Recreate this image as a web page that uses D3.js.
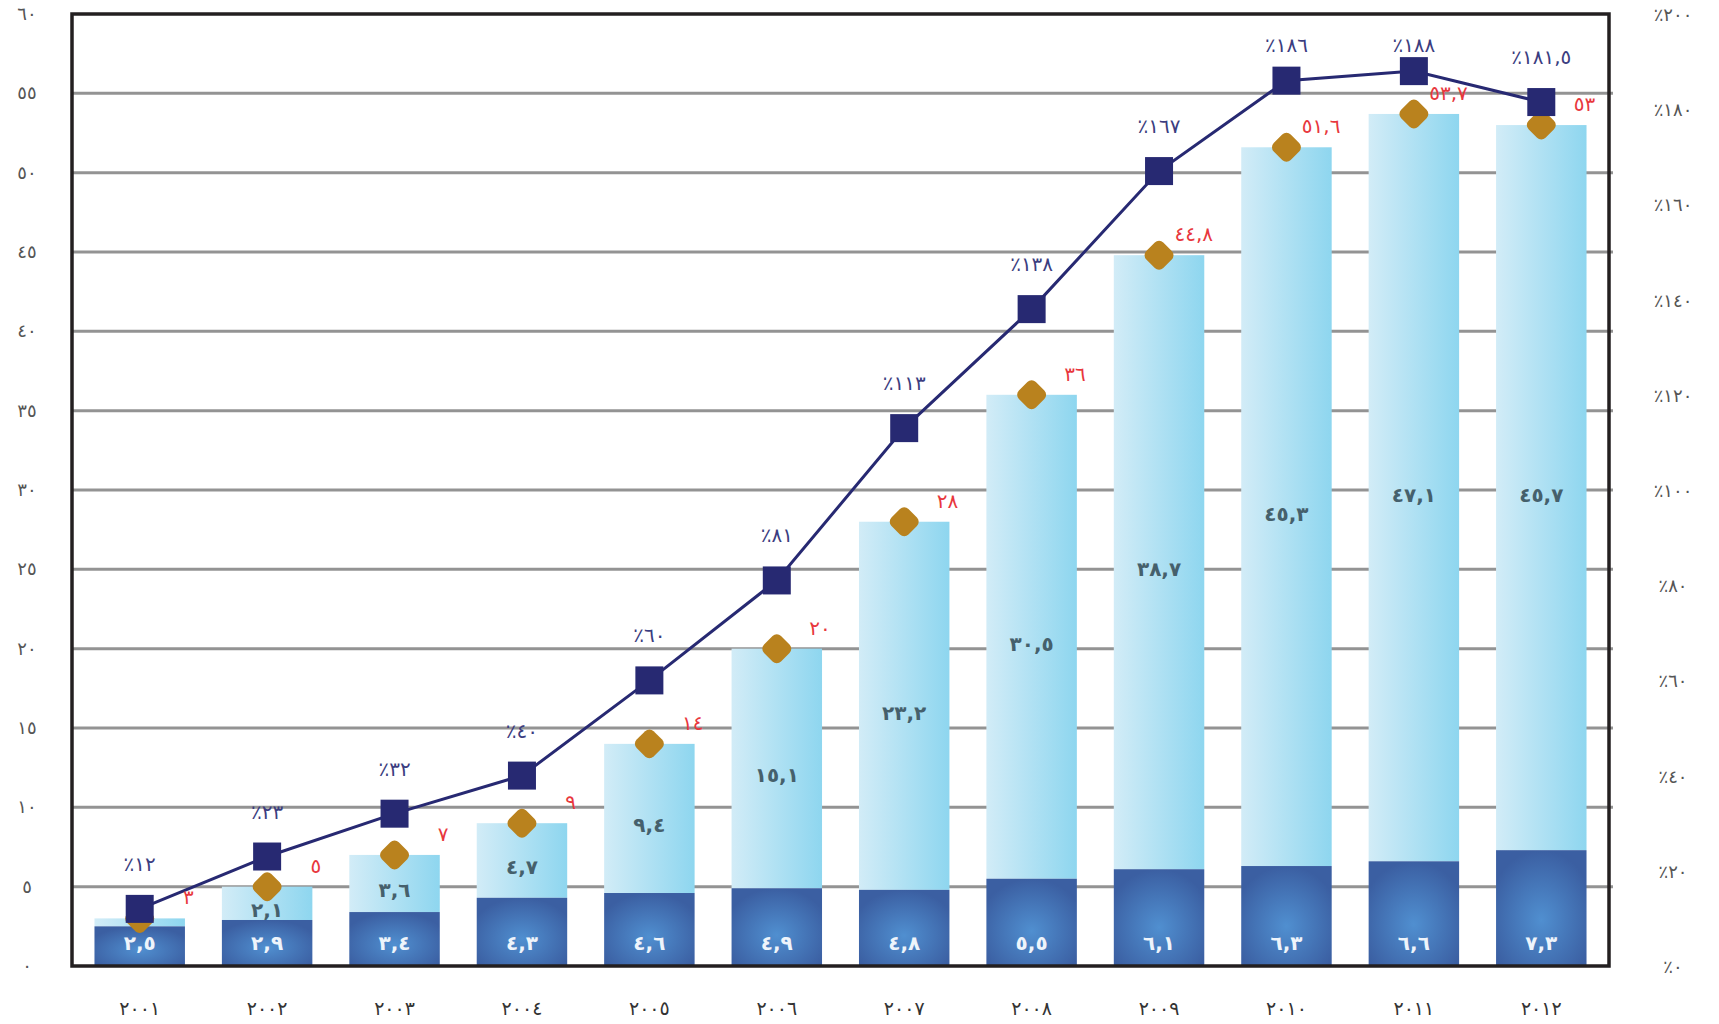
<!DOCTYPE html>
<html>
<head>
<meta charset="utf-8">
<script src="https://cdn.jsdelivr.net/npm/d3@7"></script>
<style>
	body { margin: 0; background: #fff; }
	svg text { font-family: "DejaVu Sans", sans-serif; }
</style>
</head>
<body>
<script>
"use strict";

// years and values
var years = ["٢٠٠١", "٢٠٠٢", "٢٠٠٣", "٢٠٠٤", "٢٠٠٥", "٢٠٠٦", "٢٠٠٧", "٢٠٠٨", "٢٠٠٩", "٢٠١٠", "٢٠١١", "٢٠١٢"];
var darkValues = [2.5, 2.9, 3.4, 4.3, 4.6, 4.9, 4.8, 5.5, 6.1, 6.3, 6.6, 7.3];
var lightValues = [0.5, 2.1, 3.6, 4.7, 9.4, 15.1, 23.2, 30.5, 38.7, 45.3, 47.1, 45.7];
var percentValues = [12, 23, 32, 40, 60, 81, 113, 138, 167, 186, 188, 181.5];
var leftTicks = [0, 5, 10, 15, 20, 25, 30, 35, 40, 45, 50, 55, 60];
var rightTicks = [0, 20, 40, 60, 80, 100, 120, 140, 160, 180, 200];

var width = 1719, height = 1024;
var plotLeft = 72, plotRight = 1609, plotTop = 14, plotBottom = 966;

// arabic-indic digits
function fa(v) {
	var digits = "٠١٢٣٤٥٦٧٨٩";
	return String(v).replace(/[0-9]/g, function (c) { return digits[+c]; }).replace(".", ",");
}

var svg = d3.select("body").append("svg")
	.attr("width", width)
	.attr("height", height);

var defs = svg.append("defs");

var lightGrad = defs.append("linearGradient")
	.attr("id", "lightGrad")
	.attr("x1", "0").attr("x2", "1").attr("y1", "0").attr("y2", "0");
lightGrad.append("stop").attr("offset", "0").attr("stop-color", "#d2ecf7");
lightGrad.append("stop").attr("offset", "1").attr("stop-color", "#8ed6ef");

var darkGrad = defs.append("radialGradient")
	.attr("id", "darkGrad")
	.attr("cx", "0.5").attr("cy", "0.6").attr("r", "0.6");
darkGrad.append("stop").attr("offset", "0").attr("stop-color", "#508fd0");
darkGrad.append("stop").attr("offset", "1").attr("stop-color", "#3b5fa2");

var x = d3.scaleBand()
	.domain(years)
	.range([76, 1605])
	.paddingInner(0.29)
	.paddingOuter(0.145);

var y = d3.scaleLinear().domain([0, 60]).range([plotBottom, plotTop]);
var yRight = d3.scaleLinear().domain([0, 200]).range([plotBottom, plotTop]);

// grid lines
svg.append("g")
	.selectAll("line")
	.data(leftTicks.filter(function (d) { return d > 0 && d < 60; }))
	.join("line")
	.attr("x1", plotLeft)
	.attr("x2", plotRight + 4)
	.attr("y1", function (d) { return y(d); })
	.attr("y2", function (d) { return y(d); })
	.attr("stroke", "#939393")
	.attr("stroke-width", 3);

// left axis labels
svg.append("g")
	.selectAll("text")
	.data(leftTicks)
	.join("text")
	.attr("x", 27)
	.attr("y", function (d) { return y(d) + 6; })
	.attr("text-anchor", "middle")
	.attr("font-size", 18)
	.attr("fill", "#555")
	.text(function (d) { return fa(d); });

// right axis labels
svg.append("g")
	.selectAll("text")
	.data(rightTicks)
	.join("text")
	.attr("x", 1673)
	.attr("y", function (d) { return yRight(d) + 7; })
	.attr("text-anchor", "middle")
	.attr("font-size", 18)
	.attr("fill", "#555")
	.text(function (d) { return "٪" + fa(d); });

// year labels
svg.append("g")
	.selectAll("text")
	.data(years)
	.join("text")
	.attr("x", function (d) { return x(d) + x.bandwidth() / 2; })
	.attr("y", 1015)
	.attr("text-anchor", "middle")
	.attr("font-size", 19)
	.attr("fill", "#333")
	.text(function (d) { return d; });

var rows = years.map(function (yr, i) {
	return { year: yr, dark: darkValues[i], light: lightValues[i], total: +(darkValues[i] + lightValues[i]).toFixed(1), pct: percentValues[i] };
});

// bars
var bars = svg.append("g");

bars.selectAll("rect.light")
	.data(rows)
	.join("rect")
	.attr("class", "light")
	.attr("x", function (d) { return x(d.year); })
	.attr("width", x.bandwidth())
	.attr("y", function (d) { return y(d.total); })
	.attr("height", function (d) { return y(d.dark) - y(d.total); })
	.attr("fill", "url(#lightGrad)");

bars.selectAll("rect.dark")
	.data(rows)
	.join("rect")
	.attr("class", "dark")
	.attr("x", function (d) { return x(d.year); })
	.attr("width", x.bandwidth())
	.attr("y", function (d) { return y(d.dark); })
	.attr("height", function (d) { return y(0) - y(d.dark); })
	.attr("fill", "url(#darkGrad)");

// value labels in the bars
bars.selectAll("text.darkLabel")
	.data(rows)
	.join("text")
	.attr("class", "darkLabel")
	.attr("x", function (d) { return x(d.year) + x.bandwidth() / 2; })
	.attr("y", 950)
	.attr("text-anchor", "middle")
	.attr("font-size", 20)
	.attr("font-weight", "bold")
	.attr("fill", "#eef4fb")
	.text(function (d) { return fa(d.dark); });

bars.selectAll("text.lightLabel")
	.data(rows.filter(function (d) { return d.light > 1; }))
	.join("text")
	.attr("class", "lightLabel")
	.attr("x", function (d) { return x(d.year) + x.bandwidth() / 2; })
	.attr("y", function (d) { return (y(d.dark) + y(d.total)) / 2 + 14; })
	.attr("text-anchor", "middle")
	.attr("font-size", 20)
	.attr("font-weight", "bold")
	.attr("fill", "#45606c")
	.text(function (d) { return fa(d.light); });

// frame
svg.append("rect")
	.attr("x", plotLeft)
	.attr("y", plotTop)
	.attr("width", plotRight - plotLeft)
	.attr("height", plotBottom - plotTop)
	.attr("fill", "none")
	.attr("stroke", "#231f20")
	.attr("stroke-width", 3.5);

// percent line
var cx = function (d) { return x(d.year) + x.bandwidth() / 2; };

svg.append("path")
	.datum(rows)
	.attr("d", d3.line().x(cx).y(function (d) { return yRight(d.pct); }))
	.attr("fill", "none")
	.attr("stroke", "#272972")
	.attr("stroke-width", 3);

// totals as gold diamonds
svg.append("g")
	.selectAll("rect")
	.data(rows)
	.join("rect")
	.attr("x", -12)
	.attr("y", -12)
	.attr("width", 24)
	.attr("height", 24)
	.attr("rx", 6)
	.attr("transform", function (d) { return "translate(" + cx(d) + "," + y(d.total) + ") rotate(45)"; })
	.attr("fill", "#b9821e");

svg.append("g")
	.selectAll("text")
	.data(rows)
	.join("text")
	.attr("x", function (d) { return cx(d) + 54; })
	.attr("y", function (d) { return y(d.total) - 14; })
	.attr("text-anchor", "end")
	.attr("font-size", 20)
	.attr("fill", "#e8373d")
	.text(function (d) { return fa(d.total); });

svg.append("g")
	.selectAll("rect")
	.data(rows)
	.join("rect")
	.attr("x", function (d) { return cx(d) - 14; })
	.attr("y", function (d) { return yRight(d.pct) - 14; })
	.attr("width", 28)
	.attr("height", 28)
	.attr("fill", "#272972");

svg.append("g")
	.selectAll("text")
	.data(rows)
	.join("text")
	.attr("x", cx)
	.attr("y", function (d) { return Math.max(yRight(d.pct) - 45, 45) + 7; })
	.attr("text-anchor", "middle")
	.attr("font-size", 20)
	.attr("fill", "#3b3d80")
	.text(function (d) { return "٪" + fa(d.pct); });
</script>
</body>
</html>
